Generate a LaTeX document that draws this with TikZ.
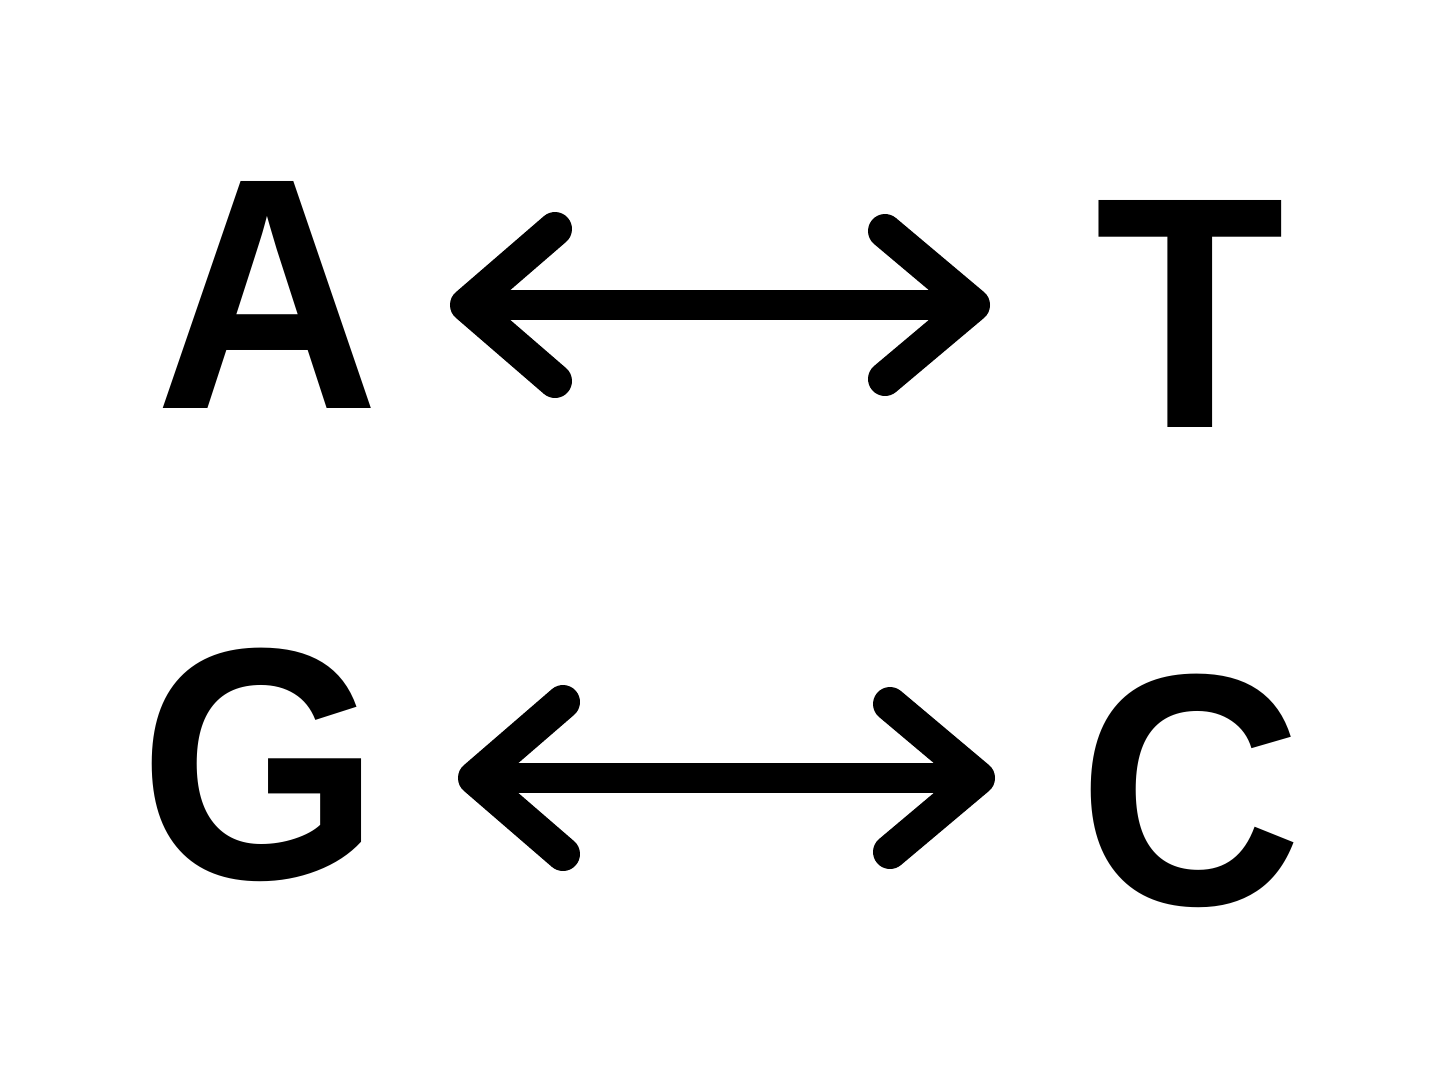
\documentclass[tikz,border=0pt]{standalone}
\usepackage{fontspec}
\setmainfont{Liberation Sans}
\usetikzlibrary{arrows.meta}
\begin{document}
\begin{tikzpicture}[x=0.5pt,y=-0.5pt,
  base/.style={font=\fontsize{165}{168}\selectfont\bfseries, inner sep=0pt, anchor=base, xscale=0.94},
  pair/.style={line width=15pt, line cap=round,
    {Straight Barb[round, length=44pt, width=76pt, line width=17pt]}-{Straight Barb[round, length=44pt, width=74pt, line width=17pt]}}]
\useasboundingbox (0,0) rectangle (1440,1089);
\node[base] (A) at (268,408) {A};
\node[base] (T) at (1190,427) {T};
\node[base] (G) at (260,878) {G};
\node[base] (C) at (1190,904) {C};
\coordinate (a1) at (450,305);
\coordinate (a2) at (990,305);
\coordinate (g1) at (458,778);
\coordinate (g2) at (995,778);
\draw[pair] (a1) -- (a2);
\draw[pair] (g1) -- (g2);
\end{tikzpicture}
\end{document}
